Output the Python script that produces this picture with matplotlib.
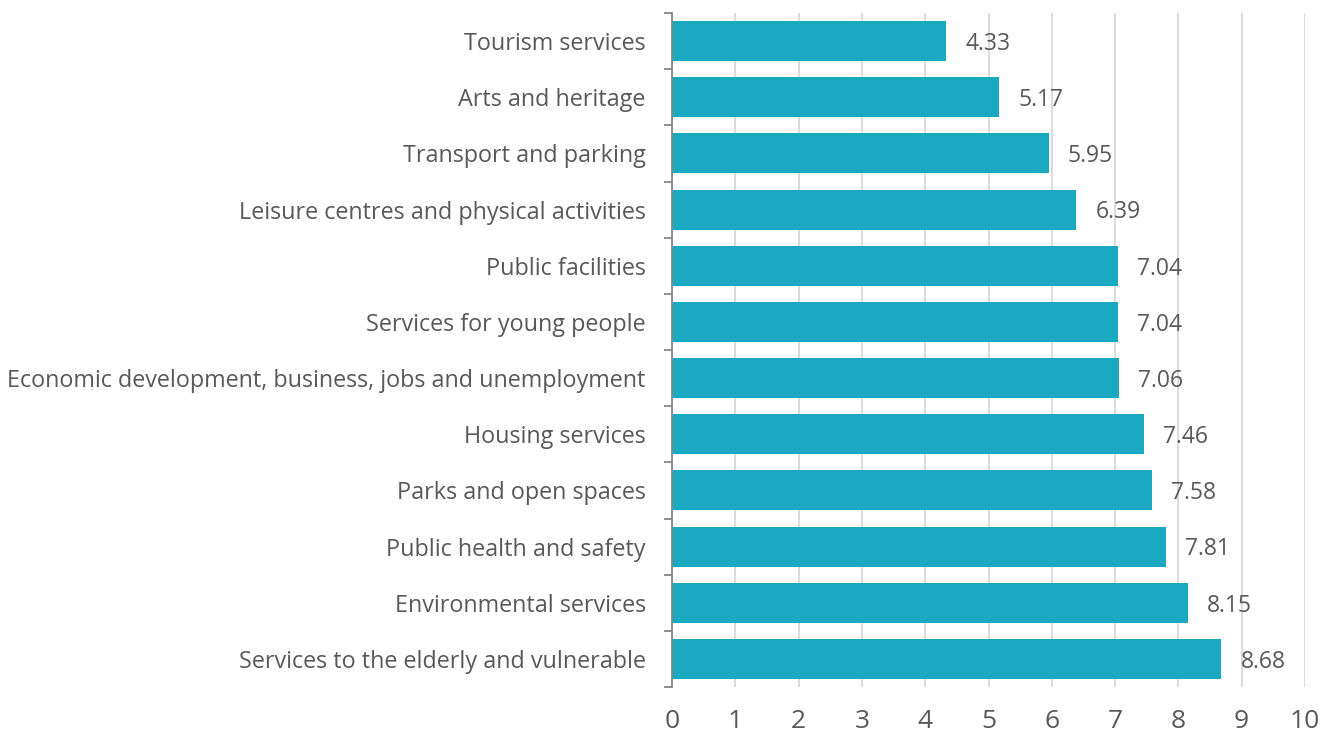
import matplotlib.pyplot as plt
import numpy as np

categories = ['Services to the elderly and vulnerable', 'Environmental services',
              'Public health and safety', 'Parks and open spaces', 'Housing services',
              'Economic development, business, jobs and unemployment',
              'Services for young people', 'Public facilities',
              'Leisure centres and physical activities', 'Transport and parking',
              'Arts and heritage', 'Tourism services']
values = [8.68, 8.15, 7.81, 7.58, 7.46, 7.06, 7.04, 7.04, 6.39, 5.95, 5.17, 4.33]
x_ticks = list(range(0, 11))

plt.rcParams['font.family'] = ['Open Sans', 'DejaVu Sans']
text_color = '#595959'

fig = plt.figure(figsize=(13.35, 7.35), dpi=100)
ax = fig.add_axes([0.5034, 0.0653, 0.9775 - 0.5034, 0.9823 - 0.0653])

y = np.arange(len(categories))
ax.barh(y, values, height=0.71, color='#1BA9C1', zorder=3)

# value labels to the right of each bar
for yi, v in zip(y, values):
    ax.text(v + 0.3, yi - 0.05, f'{v:.2f}', va='center', ha='left',
            fontsize=16.5, color=text_color)

ax.set_xlim(0, 10)
ax.set_ylim(-0.5, len(categories) - 0.5)
ax.set_xticks(x_ticks)
ax.set_yticks(y)
ax.set_yticklabels(categories)
ax.set_yticks(np.arange(-0.5, len(categories)), minor=True)
ax.tick_params(axis='y', which='major', length=0, pad=19, labelsize=16.8, labelcolor=text_color)
ax.tick_params(axis='y', which='minor', length=6, color='#868686', width=1.3)
ax.tick_params(axis='x', length=0, pad=15.5, labelsize=19, labelcolor=text_color)

ax.grid(axis='x', color='#D9D9D9', linewidth=1.3, zorder=0)
for s in ['top', 'right', 'bottom']:
    ax.spines[s].set_visible(False)
ax.spines['left'].set_color('#868686')
ax.spines['left'].set_linewidth(1.3)
ax.spines['left'].set_zorder(4)

fig.savefig('out.png', dpi=100)
